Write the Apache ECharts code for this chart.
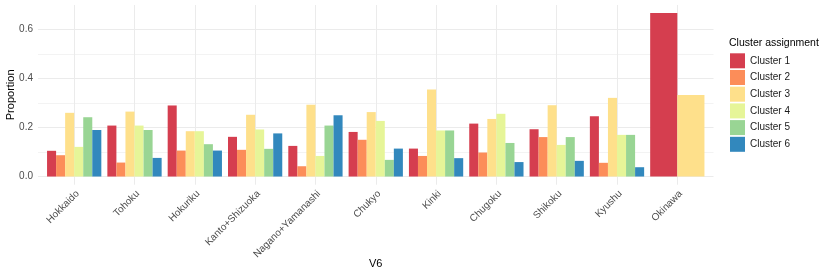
<!DOCTYPE html>
<html>
<head>
<meta charset="utf-8">
<script src="https://cdn.jsdelivr.net/npm/echarts@6/dist/echarts.min.js"></script>
<style>html,body{margin:0;padding:0;background:#fff}#c{width:830px;height:277px}</style>
</head>
<body>
<div id="c"></div>
<script>
const regions = ["Hokkaido","Tohoku","Hokuriku","Kanto+Shizuoka","Nagano+Yamanashi","Chukyo","Kinki","Chugoku","Shikoku","Kyushu","Okinawa"];
const clusterNames = ["Cluster 1","Cluster 2","Cluster 3","Cluster 4","Cluster 5","Cluster 6"];
const cluster1 = [0.105,0.208,0.290,0.162,0.125,0.182,0.114,0.216,0.193,0.246,0.667];
const cluster2 = [0.087,0.057,0.106,0.109,0.042,0.150,0.084,0.098,0.161,0.056,null];
const cluster3 = [0.260,0.265,0.185,0.252,0.293,0.263,0.355,0.235,0.291,0.321,0.333];
const cluster4 = [0.121,0.208,0.185,0.192,0.084,0.227,0.188,0.256,0.129,0.170,null];
const cluster5 = [0.242,0.190,0.132,0.113,0.208,0.068,0.188,0.137,0.161,0.170,null];
const cluster6 = [0.190,0.076,0.106,0.176,0.250,0.114,0.075,0.059,0.064,0.038,null];
const yTicks = [0,0.2,0.4,0.6];
const yGrid = [0,0.1,0.2,0.3,0.4,0.5,0.6];
const colors = ["#D53E4F","#FC8D59","#FEE08B","#E6F598","#99D594","#3288BD"];

const all = [cluster1,cluster2,cluster3,cluster4,cluster5,cluster6];
const series = all.map((arr, k) => {
  const data = [];
  arr.forEach((v, i) => {
    if (v == null) return;
    const present = all.map((a, j) => a[i] != null ? j : -1).filter(j => j >= 0);
    data.push([i, v, present.indexOf(k), present.length]);
  });
  return {
    type: 'custom',
    name: clusterNames[k],
    itemStyle: {color: colors[k]},
    data: data,
    encode: {x: 0, y: 1},
    renderItem: function (params, api) {
      const c = api.value(0), v = api.value(1), slot = api.value(2), n = api.value(3);
      const unit = api.size([1, 0])[0];
      const gw = unit * 0.9;
      const w = gw / n;
      const base = api.coord([c, 0]);
      const top = api.coord([c, v]);
      return {
        type: 'rect',
        shape: {x: base[0] - gw / 2 + slot * w, y: top[1], width: w, height: base[1] - top[1]},
        style: api.style()
      };
    }
  };
});

const chart = echarts.init(document.getElementById('c'), null, {renderer: 'canvas'});
const font = 'Liberation Sans, Arial, sans-serif';
chart.setOption({
  animation: false,
  textStyle: {fontFamily: font},
  grid: {left: 38, right: 116.5, top: 5, bottom: 92.3, containLabel: false, outerBoundsMode: 'none'},
  title: {text: 'Cluster assignment', left: 724, top: 33, textStyle: {fontSize: 10.5, fontWeight: 'normal', color: '#000', fontFamily: font}},
  legend: {
    orient: 'vertical', left: 725, top: 48.3, itemWidth: 15, itemHeight: 15, itemGap: 1.7,
    icon: 'rect', textStyle: {fontSize: 10, color: '#1a1a1a', fontFamily: font},
    data: clusterNames
  },
  xAxis: {
    type: 'value', min: -0.6, max: 10.6,
    name: 'V6', nameLocation: 'middle', nameGap: 74, nameMoveOverlap: false,
    nameTextStyle: {fontSize: 11, color: '#000', fontFamily: font},
    axisLine: {show: false},
    axisTick: {show: false, customValues: regions.map((r, i) => i)},
    axisLabel: {customValues: regions.map((r, i) => i), rotate: 45, margin: 4, fontSize: 10, color: '#4d4d4d',
      align: 'right', verticalAlign: 'top',
      formatter: v => regions[Math.round(v)]},
    splitLine: {show: true, lineStyle: {color: '#ebebeb', width: 1}}
  },
  yAxis: {
    type: 'value', min: -0.7 / 21, max: 0.7,
    name: 'Proportion', nameLocation: 'middle', nameGap: 22, nameMoveOverlap: false,
    nameTextStyle: {fontSize: 11, color: '#000', fontFamily: font},
    axisLine: {show: false},
    axisTick: {show: false, customValues: yGrid},
    axisLabel: {customValues: yTicks, margin: 5, fontSize: 10, color: '#4d4d4d', formatter: v => v.toFixed(1)},
    splitLine: {show: true, lineStyle: {color: ['#ebebeb', '#f3f3f3'], width: 1}}
  },
  series: series
});
</script>
</body>
</html>
